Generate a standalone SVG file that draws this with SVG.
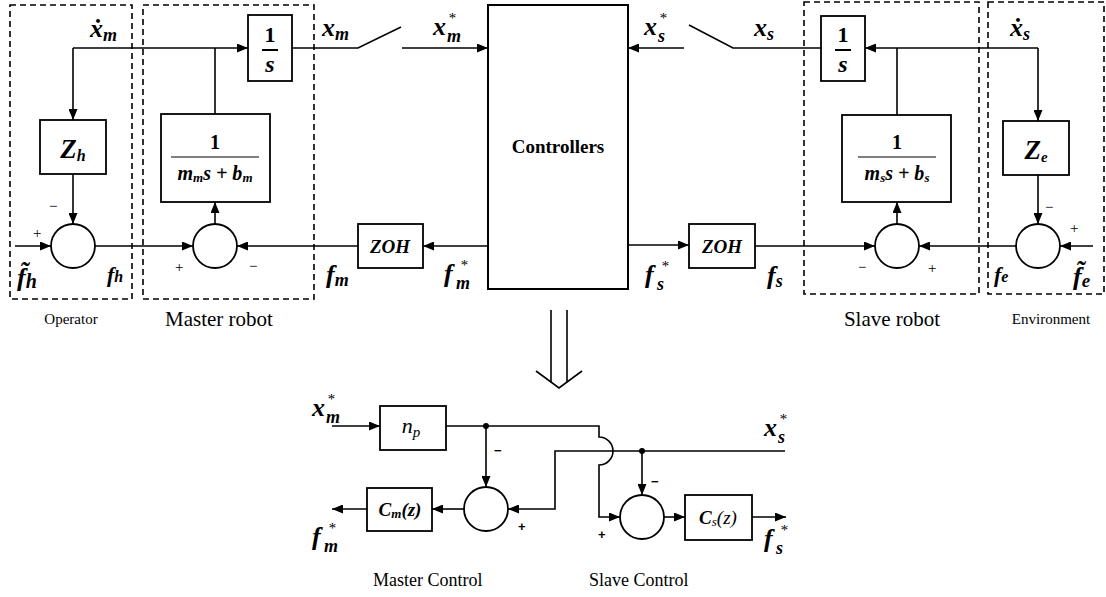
<svg xmlns="http://www.w3.org/2000/svg" width="1106" height="597" viewBox="0 0 1106 597">
<style>
.bx{fill:#fff;stroke:#000;stroke-width:1.8}
.db{fill:none;stroke:#000;stroke-width:1.6;stroke-dasharray:6,4}
.ln{fill:none;stroke:#000;stroke-width:1.6}
.ar{marker-end:url(#ah)}
text{fill:#000}
.m{font-family:"Liberation Serif","DejaVu Serif",serif;font-style:italic;font-weight:bold;font-size:26px}
.sub{font-size:18px}
.sup{font-size:15px;font-weight:normal}
.fr{font-family:"Liberation Serif","DejaVu Serif",serif;font-weight:bold;font-size:22px}
.dn{font-family:"Liberation Serif","DejaVu Serif",serif;font-style:italic;font-weight:bold;font-size:20px}
.zoh{font-family:"Liberation Serif",serif;font-style:italic;font-weight:bold;font-size:19px}
.t{font-family:"Liberation Serif",serif;font-size:15px}
.tl{font-family:"Liberation Serif",serif;font-size:21px}
.tb{font-family:"Liberation Serif",serif;font-size:18px}
.sg{font-family:"Liberation Serif",serif;font-size:15px}
.sgb{font-family:"Liberation Sans",sans-serif;font-size:13px;font-weight:bold}
.it{font-family:"Liberation Serif",serif;font-style:italic;font-size:22px}
</style>
<defs>
<marker id="ah" markerWidth="11" markerHeight="9" refX="11" refY="4.5" orient="auto" markerUnits="userSpaceOnUse"><path d="M0,0 L11,4.5 L0,9 z" fill="#000"/></marker>
</defs>

<g id="regions">
<rect class="db" x="10" y="5" width="122" height="294"/>
<rect class="db" x="143" y="5" width="171" height="294"/>
<rect class="db" x="804" y="2" width="175" height="292"/>
<rect class="db" x="988" y="2" width="116" height="292"/>
<text class="t" x="71" y="324" text-anchor="middle">Operator</text>
<text class="tl" x="219" y="326" text-anchor="middle">Master robot</text>
<text class="tl" x="892" y="326" text-anchor="middle">Slave robot</text>
<text class="t" x="1051" y="324" text-anchor="middle">Environment</text>
</g>

<g id="connectors">
<line class="ln ar" x1="15" y1="246" x2="51" y2="246"/>
<line class="ln ar" x1="73" y1="174" x2="73" y2="224"/>
<line class="ln" x1="215" y1="114" x2="215" y2="48"/>
<line class="ln ar" x1="73" y1="48" x2="248" y2="48"/>
<line class="ln ar" x1="73" y1="48" x2="73" y2="120"/>
<line class="ln ar" x1="95" y1="246" x2="193" y2="246"/>
<line class="ln ar" x1="215" y1="224" x2="215" y2="202"/>
<line class="ln ar" x1="358" y1="246" x2="237" y2="246"/>
<line class="ln ar" x1="488" y1="246" x2="423" y2="246"/>
<polyline class="ln" points="292,48 358,48 401,27"/>
<line class="ln ar" x1="402" y1="48" x2="488" y2="48"/>
<line class="ln ar" x1="684" y1="48" x2="628" y2="48"/>
<polyline class="ln" points="689,25 733,48 821,48"/>
<line class="ln ar" x1="1038" y1="48" x2="865" y2="48"/>
<line class="ln ar" x1="1038" y1="48" x2="1038" y2="121"/>
<line class="ln" x1="897" y1="115" x2="897" y2="48"/>
<line class="ln ar" x1="1038" y1="175" x2="1038" y2="224"/>
<line class="ln ar" x1="1093" y1="246" x2="1060" y2="246"/>
<line class="ln ar" x1="1016" y1="246" x2="919" y2="246"/>
<line class="ln ar" x1="897" y1="224" x2="897" y2="202"/>
<line class="ln ar" x1="628" y1="245" x2="689" y2="245"/>
<line class="ln ar" x1="755" y1="246" x2="875" y2="246"/>

<line class="ln" x1="551" y1="310" x2="551" y2="382"/>
<line class="ln" x1="567" y1="310" x2="567" y2="382"/>
<polyline class="ln" points="536,371 559,388 582,371"/>

<line class="ln ar" x1="332" y1="426" x2="380" y2="426"/>
<path class="ln ar" d="M446,426 H599 V437 A14,14 0 0 1 599,465 V517 H620"/>
<line class="ln ar" x1="486" y1="426" x2="486" y2="487"/>
<path class="ln ar" d="M785,451 H555 V509 H508"/>
<line class="ln ar" x1="642" y1="451" x2="642" y2="495"/>
<line class="ln ar" x1="464" y1="509" x2="432" y2="509"/>
<line class="ln ar" x1="367" y1="509" x2="332" y2="509"/>
<line class="ln ar" x1="664" y1="517" x2="685" y2="517"/>
<line class="ln ar" x1="752" y1="517" x2="786" y2="517"/>
<circle cx="486" cy="426" r="3" fill="#000"/>
<circle cx="642" cy="451" r="3" fill="#000"/>
</g>

<g id="int-m">
<rect class="bx" x="248" y="15" width="44" height="66"/>
<text class="fr" x="270" y="42" text-anchor="middle">1</text>
<line x1="262" y1="50" x2="278" y2="50" stroke="#000" stroke-width="2"/>
<text class="m" x="270" y="72" text-anchor="middle" style="font-size:24px">s</text>
</g>
<g id="controllers">
<rect class="bx" x="488" y="5" width="140" height="284" style="stroke-width:2"/>
<text x="558" y="153" text-anchor="middle" style="font-family:'Liberation Serif',serif;font-weight:bold;font-size:19px">Controllers</text>
</g>
<g id="int-s">
<rect class="bx" x="821" y="16" width="44" height="65"/>
<text class="fr" x="843" y="42" text-anchor="middle">1</text>
<line x1="835" y1="50" x2="851" y2="50" stroke="#000" stroke-width="2"/>
<text class="m" x="843" y="72" text-anchor="middle" style="font-size:24px">s</text>
</g>
<g id="Zh">
<rect class="bx" x="40" y="120" width="66" height="54"/>
<text class="m" x="73" y="158" text-anchor="middle" style="font-size:27px">Z<tspan dy="3" style="font-size:16px">h</tspan></text>
</g>
<g id="Ze">
<rect class="bx" x="1003" y="121" width="66" height="54"/>
<text class="m" x="1036" y="159" text-anchor="middle" style="font-size:27px">Z<tspan dy="3" style="font-size:15px">e</tspan></text>
</g>
<g id="plant-m">
<rect class="bx" x="161" y="114" width="109" height="88"/>
<text class="fr" x="215" y="149" text-anchor="middle" style="font-size:20px">1</text>
<line x1="171" y1="157" x2="259" y2="157" stroke="#000" stroke-width="1.2"/>
<text class="dn" x="215" y="180" text-anchor="middle">m<tspan style="font-size:13px" dy="2">m</tspan><tspan dy="-2">s + b</tspan><tspan style="font-size:13px" dy="2">m</tspan></text>
</g>
<g id="plant-s">
<rect class="bx" x="842" y="115" width="109" height="87"/>
<text class="fr" x="897" y="149" text-anchor="middle" style="font-size:20px">1</text>
<line x1="858" y1="157" x2="936" y2="157" stroke="#000" stroke-width="1.2"/>
<text class="dn" x="897" y="180" text-anchor="middle">m<tspan style="font-size:13px" dy="2">s</tspan><tspan dy="-2">s + b</tspan><tspan style="font-size:13px" dy="2">s</tspan></text>
</g>
<g id="zoh-m">
<rect class="bx" x="358" y="224" width="65" height="44"/>
<text class="zoh" x="390" y="253" text-anchor="middle">ZOH</text>
</g>
<g id="zoh-s">
<rect class="bx" x="689" y="224" width="66" height="44"/>
<text class="zoh" x="722" y="253" text-anchor="middle">ZOH</text>
</g>
<g id="sum-op"><circle class="bx" cx="73" cy="246" r="22"/>
<text class="sg" x="33" y="238">+</text><text class="sg" x="49" y="211">−</text></g>
<g id="sum-m"><circle class="bx" cx="215" cy="246" r="22"/>
<text class="sg" x="175" y="272">+</text><text class="sg" x="249" y="271">−</text></g>
<g id="sum-s"><circle class="bx" cx="897" cy="246" r="22"/>
<text class="sg" x="858" y="272">−</text><text class="sg" x="928" y="273">+</text></g>
<g id="sum-e"><circle class="bx" cx="1038" cy="246" r="22"/>
<text class="sg" x="1045" y="212">−</text><text class="sg" x="1070" y="233">+</text></g>

<g id="labels-top">
<text class="m" x="90" y="37">ẋ<tspan class="sub" dy="4">m</tspan></text>
<text class="m" x="322" y="36">x<tspan class="sub" dy="4">m</tspan></text>
<text class="m" x="433" y="35">x<tspan class="sup" x="448" y="23">*</tspan><tspan class="sub" x="447" y="42">m</tspan></text>
<text class="m" x="644" y="35">x<tspan class="sup" x="659" y="23">*</tspan><tspan class="sub" x="658" y="42">s</tspan></text>
<text class="m" x="754" y="36">x<tspan class="sub" dy="4">s</tspan></text>
<text class="m" x="1010" y="36">ẋ<tspan class="sub" dy="4">s</tspan></text>
<text class="m" x="17" y="286">f̃<tspan dy="2" style="font-size:20px">h</tspan></text>
<text class="m" x="107" y="282" style="font-size:22px">f<tspan style="font-size:16px">h</tspan></text>
<text class="m" x="326" y="283">f<tspan class="sub" dy="3">m</tspan></text>
<text class="m" x="444" y="282">f<tspan class="sup" x="460" y="270">*</tspan><tspan class="sub" x="456" y="289">m</tspan></text>
<text class="m" x="645" y="283">f<tspan class="sup" x="661" y="271">*</tspan><tspan class="sub" x="657" y="290">s</tspan></text>
<text class="m" x="767" y="284">f<tspan class="sub" dy="3">s</tspan></text>
<text class="m" x="994" y="282" style="font-size:22px">f<tspan style="font-size:16px">e</tspan></text>
<text class="m" x="1073" y="285">f̃<tspan dy="2" style="font-size:19px">e</tspan></text>
</g>

<g id="np">
<rect class="bx" x="380" y="406" width="66" height="44"/>
<text class="it" x="411" y="433" text-anchor="middle">n<tspan style="font-size:15px" dy="4">p</tspan></text>
</g>
<g id="Cm">
<rect class="bx" x="367" y="488" width="65" height="43"/>
<text class="zoh" x="400" y="516" text-anchor="middle" style="font-size:19px">C<tspan style="font-size:13px" dy="2">m</tspan><tspan dy="-2">(z)</tspan></text>
</g>
<g id="Cs">
<rect class="bx" x="685" y="495" width="67" height="45"/>
<text x="718" y="524" text-anchor="middle" style="font-family:'Liberation Serif',serif;font-style:italic;font-size:19px"><tspan font-weight="bold">C</tspan><tspan style="font-size:13px" dy="2">s</tspan><tspan dy="-2">(z)</tspan></text>
</g>
<g id="sum-mc"><circle class="bx" cx="486" cy="509" r="22"/>
<text class="sgb" x="494" y="455">−</text><text class="sgb" x="518" y="531">+</text></g>
<g id="sum-sc"><circle class="bx" cx="642" cy="517" r="22"/>
<text class="sgb" x="651" y="486">−</text><text class="sgb" x="598" y="539">+</text></g>
<g id="labels-bottom">
<text class="m" x="312" y="416">x<tspan class="sup" x="327" y="404">*</tspan><tspan class="sub" x="326" y="423">m</tspan></text>
<text class="m" x="312" y="545">f<tspan class="sup" x="328" y="533">*</tspan><tspan class="sub" x="324" y="552">m</tspan></text>
<text class="m" x="764" y="436">x<tspan class="sup" x="779" y="424">*</tspan><tspan class="sub" x="778" y="443">s</tspan></text>
<text class="m" x="764" y="547">f<tspan class="sup" x="780" y="535">*</tspan><tspan class="sub" x="776" y="554">s</tspan></text>
<text class="tb" x="373" y="586">Master Control</text>
<text class="tb" x="589" y="586">Slave Control</text>
</g>
</svg>
